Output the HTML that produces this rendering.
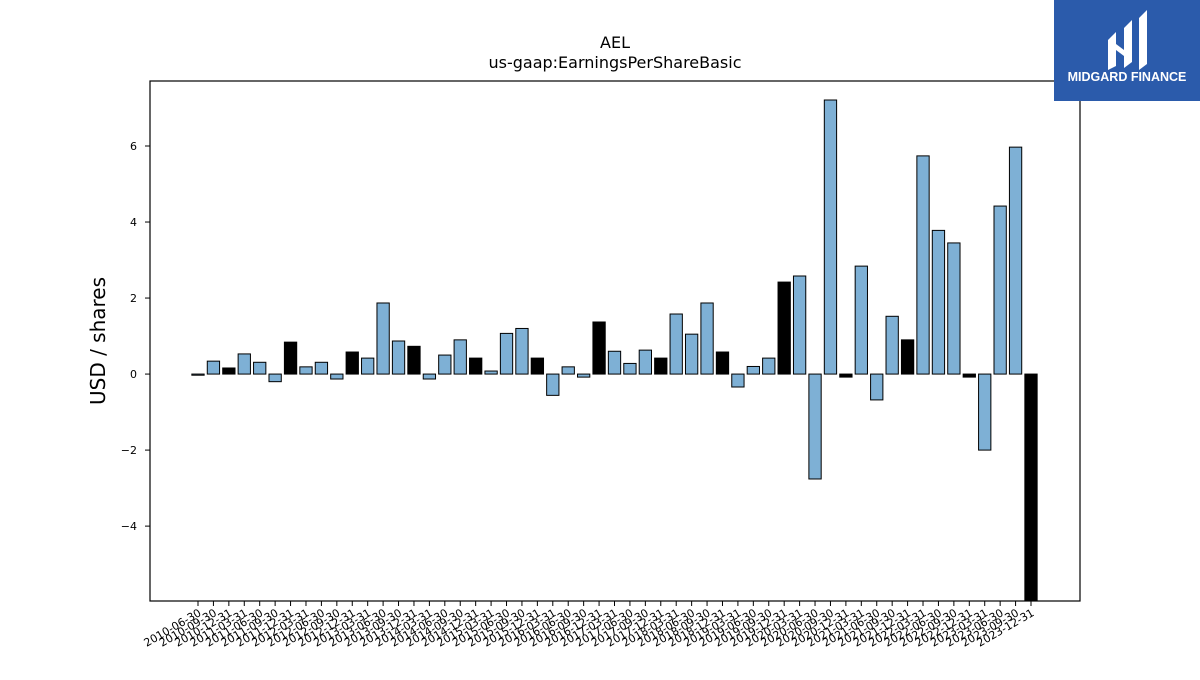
<!DOCTYPE html>
<html><head><meta charset="utf-8"><style>
body{margin:0;background:#fff;width:1200px;height:675px;overflow:hidden;font-family:"Liberation Sans","DejaVu Sans",sans-serif}
</style></head><body>
<svg id="chart" width="1200" height="675" xmlns="http://www.w3.org/2000/svg" font-family="DejaVu Sans, Liberation Sans, sans-serif">
<text x="615" y="48" font-size="16" text-anchor="middle">AEL</text>
<text x="615" y="68" font-size="16" text-anchor="middle">us-gaap:EarningsPerShareBasic</text>
<text x="0" y="0" font-size="20" text-anchor="middle" transform="translate(105,341) rotate(-90)">USD / shares</text>
<g id="bars"></g>
<g id="yticks"></g>
<g id="xticks"></g>
<rect x="150" y="81" width="930" height="520" fill="none" stroke="#000" stroke-width="1.2"/>
<g>
<rect x="1054" y="0" width="146" height="101" fill="#2b5bab"/>
<path d="M1108 40 L1116 32 L1116 66 L1108 70 Z M1124 28 L1132 20 L1132 62 L1124 68 Z M1139 18 L1147 10 L1147 64 L1139 70 Z M1116 44 L1124 50 L1124 56 L1116 50 Z" fill="#fff"/>
<text x="1127" y="81" font-size="12.5" font-weight="bold" fill="#fff" text-anchor="middle" font-family="Liberation Sans, sans-serif">MIDGARD FINANCE</text>
</g>
</svg>
<script>
const categories=["2010-06-30","2010-09-30","2010-12-31","2011-03-31","2011-06-30","2011-09-30","2011-12-31","2012-03-31","2012-06-30","2012-09-30","2012-12-31","2013-03-31","2013-06-30","2013-09-30","2013-12-31","2014-03-31","2014-06-30","2014-09-30","2014-12-31","2015-03-31","2015-06-30","2015-09-30","2015-12-31","2016-03-31","2016-06-30","2016-09-30","2016-12-31","2017-03-31","2017-06-30","2017-09-30","2017-12-31","2018-03-31","2018-06-30","2018-09-30","2018-12-31","2019-03-31","2019-06-30","2019-09-30","2019-12-31","2020-03-31","2020-06-30","2020-09-30","2020-12-31","2021-03-31","2021-06-30","2021-09-30","2021-12-31","2022-03-31","2022-06-30","2022-09-30","2022-12-31","2023-03-31","2023-06-30","2023-09-30","2023-12-31"];
const values=[-0.03,0.34,0.16,0.53,0.31,-0.2,0.84,0.19,0.31,-0.13,0.58,0.42,1.87,0.87,0.73,-0.13,0.5,0.9,0.42,0.08,1.07,1.2,0.42,-0.56,0.19,-0.08,1.37,0.6,0.28,0.63,0.42,1.58,1.05,1.87,0.58,-0.34,0.2,0.42,2.42,2.58,-2.76,7.21,-0.08,2.84,-0.68,1.52,0.9,5.74,3.78,3.45,-0.08,-2.0,4.42,5.97,-6.5];
const yTicks=[-4,-2,0,2,4,6];
const yMin=-5.97,yMax=7.71;
const NS="http://www.w3.org/2000/svg";
const X0=198,XN=1031,PT=81,PB=601;
function xs(i){return X0+(XN-X0)*i/(categories.length-1);}
function ys(v){v=Math.max(yMin,Math.min(yMax,v));return PB-(v-yMin)/(yMax-yMin)*(PB-PT);}
const bars=document.getElementById('bars');
const bw=12.3;
values.forEach((v,i)=>{
 const r=document.createElementNS(NS,'rect');
 const y0=ys(0),y1=ys(v);
 r.setAttribute('x',xs(i)-bw/2);
 r.setAttribute('y',Math.min(y0,y1));
 r.setAttribute('width',bw);
 r.setAttribute('height',Math.max(Math.abs(y1-y0),0.8));
 r.setAttribute('fill',categories[i].endsWith('12-31')?'#000':'#7eb0d5');
 r.setAttribute('stroke','#000');r.setAttribute('stroke-width','1');
 
 
 bars.appendChild(r);
});
const yt=document.getElementById('yticks');
yTicks.forEach(t=>{
 const y=ys(t);
 const l=document.createElementNS(NS,'line');
 l.setAttribute('x1',145);l.setAttribute('x2',150);l.setAttribute('y1',y);l.setAttribute('y2',y);l.setAttribute('stroke','#000');
 
 
 yt.appendChild(l);
 const tx=document.createElementNS(NS,'text');
 tx.setAttribute('x',137);tx.setAttribute('y',y+4);tx.setAttribute('font-size','11');tx.setAttribute('text-anchor','end');
 tx.textContent=(t<0?'\u2212'+(-t):String(t));
 
 
 yt.appendChild(tx);
});
const xt=document.getElementById('xticks');
categories.forEach((c,i)=>{
 const x=xs(i);
 const l=document.createElementNS(NS,'line');
 l.setAttribute('x1',x);l.setAttribute('x2',x);l.setAttribute('y1',601);l.setAttribute('y2',606);l.setAttribute('stroke','#000');
 
 
 xt.appendChild(l);
 const tx=document.createElementNS(NS,'text');
 tx.setAttribute('font-size','11');tx.setAttribute('text-anchor','end');
 tx.setAttribute('transform','translate('+(x+4)+',615) rotate(-30)');
 tx.textContent=c;
 
 
 xt.appendChild(tx);
});
</script>
</body></html>
